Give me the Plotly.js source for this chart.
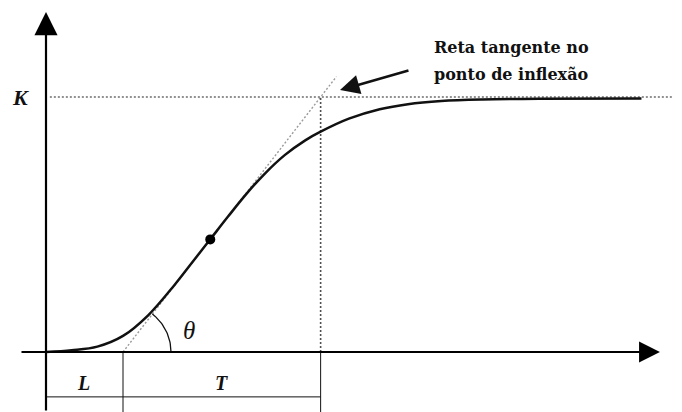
<!DOCTYPE html>
<html>
<head>
<meta charset="utf-8">
<script src="https://cdn.plot.ly/plotly-3.0.1.min.js"></script>
<style>
  html, body { margin: 0; padding: 0; background: #ffffff; }
  #chart { width: 682px; height: 412px; }
</style>
</head>
<body>
<div id="chart"></div>
<script>
// Step response of a process (S-shaped curve) with the tangent at the inflection point
const time = [0, 1, 2, 3, 4, 5, 5.7, 6.4, 7.1, 7.8, 8.5, 9.3, 10.1, 10.7, 11.8, 13, 14.1, 15.4, 17, 19.2, 23.2];
const response = [0, 0.007, 0.021, 0.063, 0.146, 0.262, 0.352, 0.442, 0.532, 0.619, 0.697, 0.772, 0.83, 0.864, 0.915, 0.952, 0.972, 0.984, 0.99, 0.993, 0.994];

const K = 1;          // final value
const L = 3;          // dead time
const T = 7.7;        // time constant
const tInflection = 6.4;
const labels = { K: 'K', L: 'L', T: 'T', theta: 'θ', note: ['Reta tangente no', 'ponto de inflexão'] };

// axis ranges (data units)
const xRange = [-1.792, 24.779];
const yRange = [-0.2353, 1.3804];
const tEnd = 24.4;     // end of the dotted K line
const tangentTop = 1.08;

const tangentAt = t => K * (t - L) / T;

const traces = [];

// tangent line through (L, 0) and (L+T, K)
traces.push({
  x: [L, L + T * tangentTop / K],
  y: [0, tangentTop],
  mode: 'lines',
  line: { color: '#9a9a9a', width: 1.4, dash: '2px,2px' },
  hoverinfo: 'skip'
});

// horizontal dotted line at K
traces.push({
  x: [0.15, tEnd],
  y: [K, K],
  mode: 'lines',
  line: { color: '#6e6e6e', width: 1.3, dash: '2px,2px' },
  hoverinfo: 'skip'
});

// vertical dotted line at L+T
traces.push({
  x: [L + T, L + T],
  y: [0, K],
  mode: 'lines',
  line: { color: '#505050', width: 1.6, dash: '2px,2px' },
  hoverinfo: 'skip'
});

// response curve
traces.push({
  x: time,
  y: response,
  mode: 'lines',
  line: { color: '#111111', width: 2.5, shape: 'spline', smoothing: 1 },
  hoverinfo: 'skip'
});

// inflection point
traces.push({
  x: [tInflection],
  y: [tangentAt(tInflection)],
  mode: 'markers',
  marker: { color: '#000000', size: 10 },
  hoverinfo: 'skip'
});

// angle arc between the time axis and the tangent
const xSpan = xRange[1] - xRange[0], ySpan = yRange[1] - yRange[0];
const pxPerX = 682 / xSpan, pxPerY = 412 / ySpan;
const theta = Math.atan((K / T) * pxPerY / pxPerX);
const arcR = 48; // px
const arcX = [], arcY = [];
for (let i = 0; i <= 30; i++) {
  const a = theta * i / 30;
  arcX.push(L + arcR * Math.cos(a) / pxPerX);
  arcY.push(arcR * Math.sin(a) / pxPerY);
}
traces.push({
  x: arcX, y: arcY, mode: 'lines',
  line: { color: '#111111', width: 1.3 },
  hoverinfo: 'skip'
});

// brackets under the time axis showing L and T
const bracketY = -0.176;
traces.push({
  x: [0, L + T], y: [bracketY, bracketY], mode: 'lines',
  line: { color: '#111111', width: 1 }, hoverinfo: 'skip'
});
[L, L + T].forEach(t => traces.push({
  x: [t, t], y: [0, yRange[0]], mode: 'lines',
  line: { color: '#111111', width: 1 }, hoverinfo: 'skip'
}));

const serif = '"Liberation Serif", "DejaVu Serif", serif';
const noteFont = { family: '"DejaVu Serif", serif', size: 16, color: '#111' };
const labelFont = { family: serif, size: 20, color: '#111' };

const annotations = [
  // y axis with arrow
  { x: 0, y: 1.333, ax: 0, ay: yRange[0], xref: 'x', yref: 'y', axref: 'x', ayref: 'y',
    showarrow: true, arrowhead: 2, arrowsize: 2.1, arrowwidth: 2.2, arrowcolor: '#000', text: '', standoff: 0 },
  // x axis with arrow
  { x: 23.92, y: 0, ax: -1.013, ay: 0, xref: 'x', yref: 'y', axref: 'x', ayref: 'y',
    showarrow: true, arrowhead: 2, arrowsize: 1.9, arrowwidth: 2.2, arrowcolor: '#000', text: '', standoff: 0 },
  // pointer to the tangent line
  { x: 11.455, y: 1.027, ax: 14.18, ay: 1.106, xref: 'x', yref: 'y', axref: 'x', ayref: 'y',
    showarrow: true, arrowhead: 2, arrowsize: 1.5, arrowwidth: 2.6, arrowcolor: '#111', text: '', standoff: 0 },
  { x: 0.7507, y: 1 - 47.5 / 412, xref: 'paper', yref: 'paper', xanchor: 'center', yanchor: 'middle',
    showarrow: false, text: '<b>' + labels.note[0] + '</b>', font: noteFont },
  { x: 0.7493, y: 1 - 74.5 / 412, xref: 'paper', yref: 'paper', xanchor: 'center', yanchor: 'middle',
    showarrow: false, text: '<b>' + labels.note[1] + '</b>', font: noteFont },
  { x: -0.98, y: K, xref: 'x', yref: 'y', showarrow: false, xanchor: 'center', yanchor: 'middle',
    text: '<b><i>' + labels.K + '</i></b>', font: { family: serif, size: 22, color: '#111' } },
  { x: L / 2 - 0.02, y: -0.1216, xref: 'x', yref: 'y', showarrow: false, xanchor: 'center', yanchor: 'middle',
    text: '<b><i>' + labels.L + '</i></b>', font: labelFont },
  { x: L + T / 2, y: -0.1216, xref: 'x', yref: 'y', showarrow: false, xanchor: 'center', yanchor: 'middle',
    text: '<b><i>' + labels.T + '</i></b>', font: labelFont },
  { x: 5.57, y: 0.086, xref: 'x', yref: 'y', showarrow: false, xanchor: 'center', yanchor: 'middle',
    text: '<i>' + labels.theta + '</i>', font: { family: serif, size: 25, color: '#111' } }
];

const layout = {
  width: 682, height: 412,
  margin: { l: 0, r: 0, t: 0, b: 0 },
  paper_bgcolor: '#ffffff', plot_bgcolor: '#ffffff',
  showlegend: false,
  xaxis: { range: xRange, visible: false, fixedrange: true },
  yaxis: { range: yRange, visible: false, fixedrange: true },
  annotations: annotations
};

Plotly.newPlot('chart', traces, layout, { staticPlot: true, displayModeBar: false });
</script>
</body>
</html>
